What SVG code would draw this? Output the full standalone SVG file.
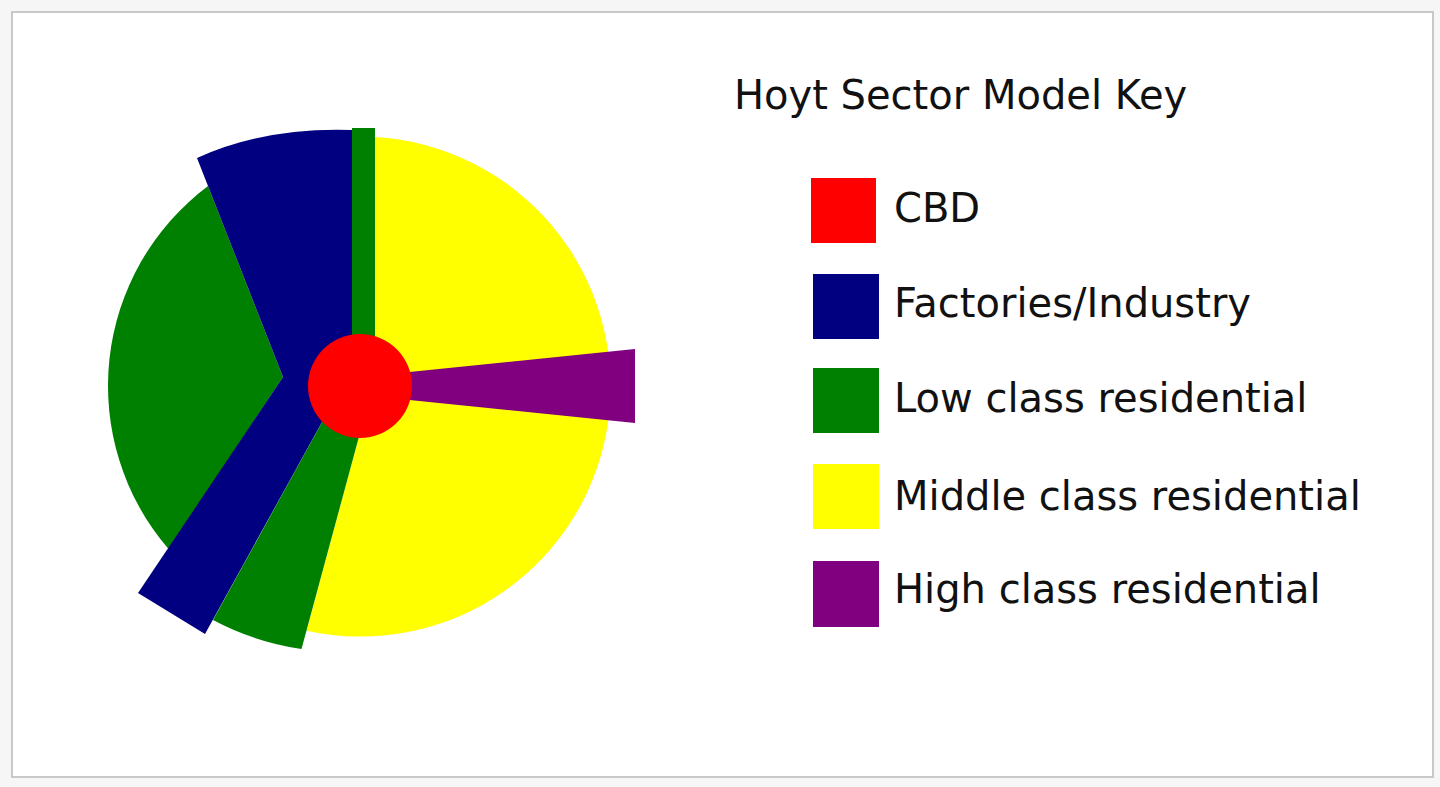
<svg xmlns="http://www.w3.org/2000/svg" width="1440" height="787" viewBox="0 0 1440 787">
  <style>
    .lbl { font-family: "DejaVu Sans", "Liberation Sans", sans-serif; font-size: 40px; fill: #111111; }
    .cbd { fill: #ff0000; }
    .ind { fill: #000080; }
    .low { fill: #008000; }
    .mid { fill: #ffff00; }
    .high { fill: #800080; }
  </style>
  <rect x="0" y="0" width="1440" height="787" fill="#f6f6f6"/>
  <rect x="12" y="12" width="1421" height="765" fill="#ffffff" stroke="#c8c8c8" stroke-width="2"/>

  <g id="sector-model">
    <g id="middle-class">
      <path class="mid" d="M 375,137 A 250 250 0 1 1 306.7,630.7 L 372.7,386 L 375,386 Z"/>
    </g>
    <g id="low-class-west">
      <path class="low" d="M 208,186 A 250 250 0 0 0 168.7,549.3 L 283,377 Z"/>
    </g>
    <g id="industry">
      <path class="ind" d="M 352,130 Q 265,127 197,158 L 283,377 L 138,593 L 205,634 L 342,386 L 352,386 Z"/>
    </g>
    <g id="low-class-south">
      <path class="low" d="M 372.7,386 L 301.5,649 A 272 272 0 0 1 213,620 L 342,386 Z"/>
    </g>
    <g id="low-class-north">
      <rect class="low" x="352" y="128" width="23" height="258"/>
    </g>
    <g id="high-class">
      <path class="high" d="M 380,375 L 635,349 L 635,423 L 380,397 Z"/>
    </g>
    <g id="cbd">
      <circle class="cbd" cx="360" cy="386" r="52"/>
    </g>
  </g>

  <g id="key">
    <text class="lbl" x="734" y="109">Hoyt Sector Model Key</text>
    <g id="key-cbd">
      <rect class="cbd" x="811" y="178" width="65" height="65"/>
      <text class="lbl" x="894" y="222">CBD</text>
    </g>
    <g id="key-industry">
      <rect class="ind" x="813" y="274" width="66" height="65"/>
      <text class="lbl" x="894" y="317">Factories/Industry</text>
    </g>
    <g id="key-low">
      <rect class="low" x="813" y="368" width="66" height="65"/>
      <text class="lbl" x="894" y="412">Low class residential</text>
    </g>
    <g id="key-middle">
      <rect class="mid" x="813" y="464" width="66" height="65"/>
      <text class="lbl" x="894" y="510">Middle class residential</text>
    </g>
    <g id="key-high">
      <rect class="high" x="813" y="561" width="66" height="66"/>
      <text class="lbl" x="894" y="603">High class residential</text>
    </g>
  </g>
</svg>
